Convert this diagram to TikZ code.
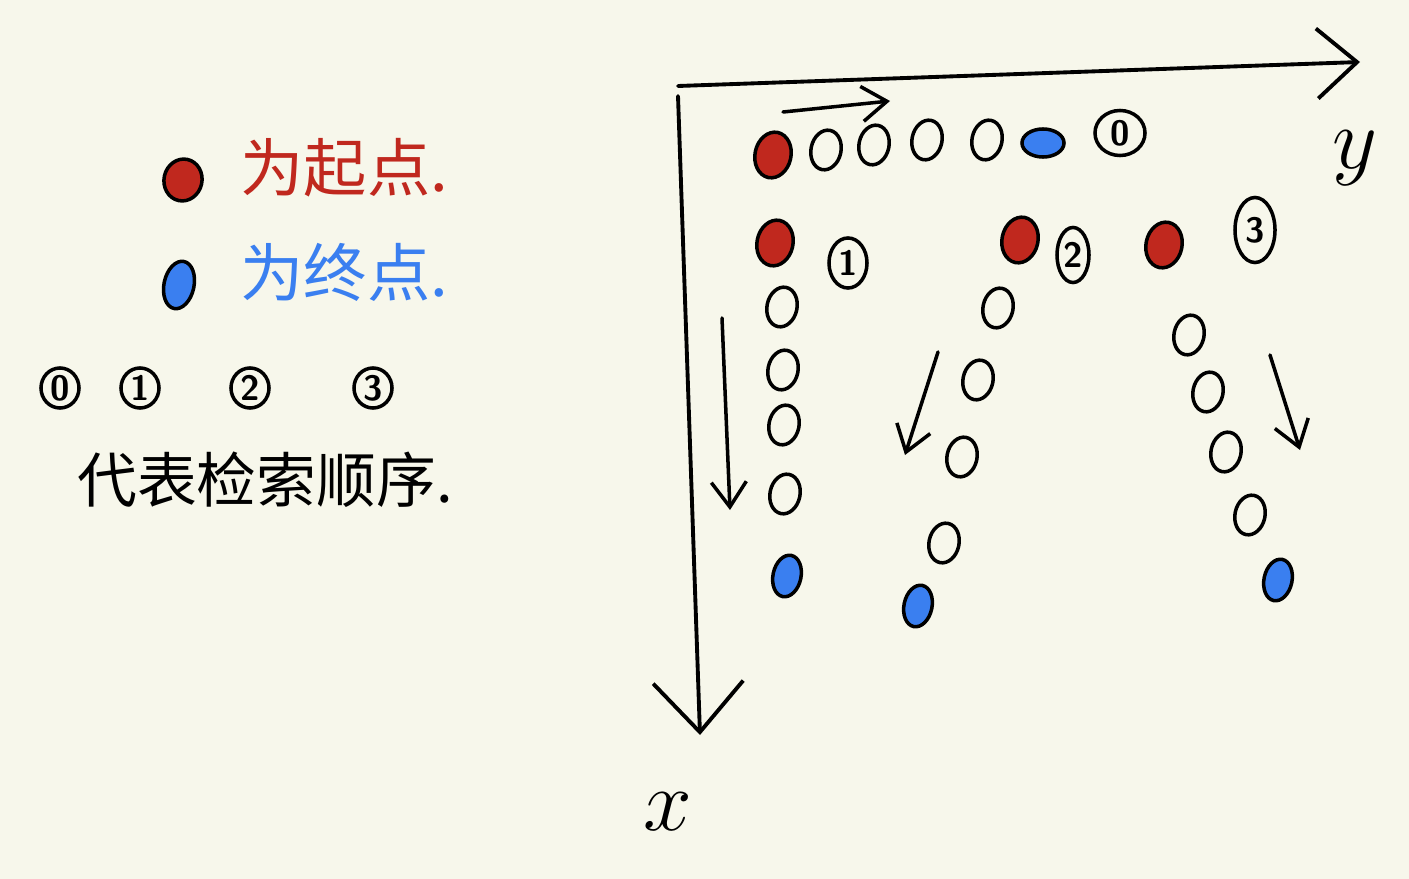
\documentclass[tikz,border=0pt]{standalone}
\usepackage{fontspec}
\newfontfamily\cjk{Noto Sans CJK SC}
\usetikzlibrary{shapes.geometric,arrows.meta}

\definecolor{paper}{HTML}{F7F7EB}
\definecolor{startred}{HTML}{C0281E}
\definecolor{endblue}{HTML}{3A7FF0}

\tikzset{
  cell/.style={ellipse, draw, line width=1pt, minimum width=0.3cm, minimum height=0.4cm, inner sep=0pt, rotate=-12},
  startcell/.style={cell, fill=startred, minimum width=0.36cm, minimum height=0.46cm},
  endcell/.style={cell, fill=endblue, minimum width=0.28cm, minimum height=0.42cm},
  order/.style={ellipse, draw, line width=1pt, inner sep=0pt, font=\sffamily\bfseries},
  barb/.style={-{Straight Barb[length=2.5mm,width=3.5mm]}, line width=1pt},
}

\begin{document}
\begin{tikzpicture}[x=0.01cm, y=-0.01cm, line cap=round]

% paper
\fill [paper] (0,0) rectangle (1409,879);

% legend
\node [startcell, minimum width=0.38cm, minimum height=0.42cm] (legstart) at (183,180) {};
\node [right, text=startred, font=\cjk\fontsize{18}{20}\selectfont] (legstarttext) at (228,168) {为起点.};
\node [endcell, minimum width=0.3cm, minimum height=0.48cm] (legend) at (179,285) {};
\node [right, text=endblue, font=\cjk\fontsize{18}{20}\selectfont] (legendtext) at (228,272) {为终点.};
\foreach \x / \t in {60/0, 140/1, 250/2, 373/3}{
    \node [order, minimum width=0.38cm, minimum height=0.4cm] (leg\t) at (\x,388) {\t};
}
\node [font=\cjk\fontsize{17}{19}\selectfont] (legordertext) at (265,480) {代表检索顺序.};

% axes
\coordinate (origin) at (678,86);
\coordinate (yend) at (1360,62);
\coordinate (xend) at (700,735);
\draw [line width=1.1pt, -{Straight Barb[length=4mm,width=7mm]}] (origin) -- (yend);
\draw [line width=1.1pt, -{Straight Barb[length=5mm,width=9mm]}] ([yshift=-0.1cm]origin) -- (xend);
\node [font=\fontsize{28}{30}\selectfont] (ylabel) at (1355,158) {$y$};
\node [font=\fontsize{28}{30}\selectfont] (xlabel) at (668,812) {$x$};

% order 0 : along y
\node [startcell] (r0s) at (773,155) {};
\foreach \x / \y / \n in {826/150/1, 874/145/2, 927/140/3, 987/140/4}{
    \node [cell] (r0c\n) at (\x,\y) {};
}
\node [endcell, rotate=-78] (r0e) at (1043,143) {};
\node [order, minimum width=0.5cm, minimum height=0.45cm] (ord0) at (1120,133) {0};
\coordinate (a0s) at (783,112);
\coordinate (a0e) at (890,101);
\draw [barb] (a0s) -- (a0e);

% order 1 : along x
\node [startcell] (r1s) at (775,243) {};
\node [order, minimum width=0.38cm, minimum height=0.5cm] (ord1) at (848,263) {1};
\foreach \x / \y / \n in {782/307/1, 783/370/2, 784/425/3, 785/494/4}{
    \node [cell] (r1c\n) at (\x,\y) {};
}
\node [endcell] (r1e) at (787,576) {};
\coordinate (a1s) at (722,318);
\coordinate (a1e) at (730,510);
\draw [barb] (a1s) -- (a1e);

% order 2 : diagonal
\node [startcell] (r2s) at (1020,240) {};
\node [order, minimum width=0.32cm, minimum height=0.55cm] (ord2) at (1073,255) {2};
\foreach \x / \y / \n in {998/308/1, 978/380/2, 962/457/3, 944/543/4}{
    \node [cell] (r2c\n) at (\x,\y) {};
}
\node [endcell] (r2e) at (918,606) {};
\coordinate (a2s) at (938,352);
\coordinate (a2e) at (905,455);
\draw [barb] (a2s) -- (a2e);

% order 3 : anti-diagonal
\node [startcell] (r3s) at (1164,245) {};
\node [order, minimum width=0.4cm, minimum height=0.65cm] (ord3) at (1255,230) {3};
\foreach \x / \y / \n in {1189/335/1, 1208/392/2, 1226/452/3, 1250/515/4}{
    \node [cell] (r3c\n) at (\x,\y) {};
}
\node [endcell, draw=black] (r3e) at (1278,580) {};
\coordinate (a3s) at (1270,355);
\coordinate (a3e) at (1300,450);
\draw [barb] (a3s) -- (a3e);

\end{tikzpicture}
\end{document}
